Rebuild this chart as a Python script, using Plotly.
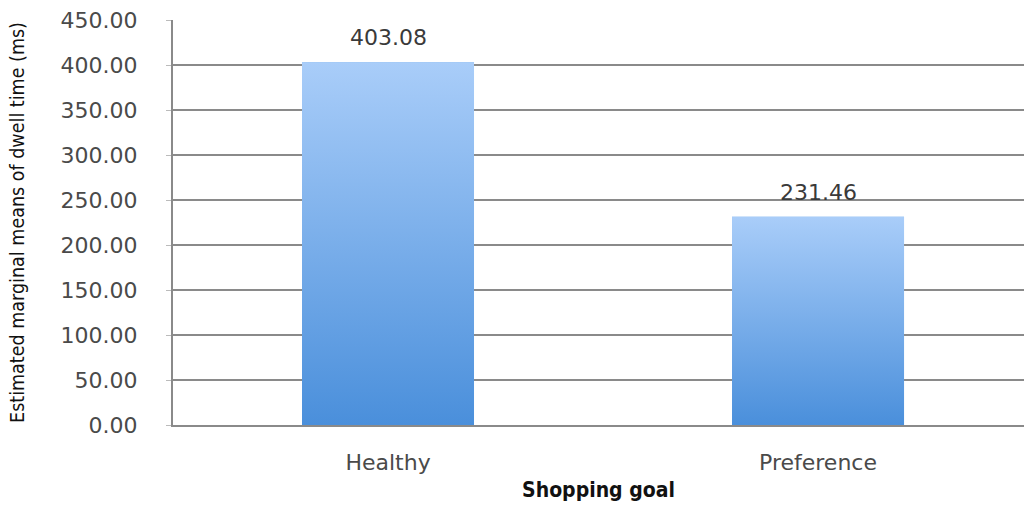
import plotly.graph_objects as go

# Estimated marginal means of dwell time by shopping goal
categories = ["Healthy", "Preference"]
dwell_ms = [403.08, 231.46]
y_ticks = [0, 50, 100, 150, 200, 250, 300, 350, 400, 450]

BAR_WIDTH = 0.40
GRAD_LOW = "#4a8fdb"
GRAD_HIGH = "#a9cdf9"
positions = list(range(len(categories)))

fig = go.Figure()

# base bars (data carrier)
fig.add_trace(go.Bar(
    x=positions, y=dwell_ms, width=BAR_WIDTH,
    marker=dict(color="#79aeeb", line=dict(width=0)),
    hoverinfo="skip", showlegend=False,
))

# vertical gradient face for each bar
for pos, val in zip(positions, dwell_ms):
    half = BAR_WIDTH / 2
    fig.add_trace(go.Scatter(
        x=[pos - half, pos + half, pos + half, pos - half, pos - half],
        y=[0, 0, val, val, 0],
        mode="lines", fill="toself",
        line=dict(width=0, color="rgba(0,0,0,0)"),
        fillgradient=dict(type="vertical", start=0, stop=val,
                          colorscale=[[0, GRAD_LOW], [1, GRAD_HIGH]]),
        hoverinfo="skip", showlegend=False,
    ))

# value labels above bars
for pos, val in zip(positions, dwell_ms):
    fig.add_annotation(
        x=pos, y=val, text=f"{val:.2f}", showarrow=False,
        yanchor="bottom", yshift=10,
        font=dict(family="DejaVu Sans", size=22, color="#3a3a3a"),
    )

fig.update_layout(
    width=1024, height=506,
    margin=dict(l=173, r=0, t=20, b=81),
    paper_bgcolor="white", plot_bgcolor="white",
    showlegend=False,
    xaxis=dict(
        range=[-0.5, 1.479],
        tickvals=positions, ticktext=categories,
        showgrid=False, zeroline=False,
        showline=True, linecolor="#8a8a8a", linewidth=2,
        ticks="", ticklabelstandoff=17,
        tickfont=dict(family="DejaVu Sans", size=22, color="#4a4a4a"),
        title=dict(text="<b>Shopping goal</b>", standoff=8,
                   font=dict(family="DejaVu Sans Condensed, Liberation Sans Narrow, DejaVu Sans",
                             size=21, color="#111111")),
    ),
    yaxis=dict(
        range=[0, 450],
        tickvals=y_ticks, ticktext=[f"{t:.2f}" for t in y_ticks],
        showgrid=True, gridcolor="#8a8a8a", gridwidth=2,
        zeroline=False,
        showline=True, linecolor="#8a8a8a", linewidth=2,
        ticks="outside", ticklen=5, tickcolor="#bbbbbb",
        ticklabelstandoff=24,
        tickfont=dict(family="DejaVu Sans", size=22, color="#4a4a4a"),
        title=dict(text="Estimated marginal means of dwell time (ms)", standoff=31,
                   font=dict(family="Liberation Sans Narrow, DejaVu Sans Condensed, DejaVu Sans",
                             size=19.5, color="#111111")),
    ),
)

fig.write_html("out.html")
